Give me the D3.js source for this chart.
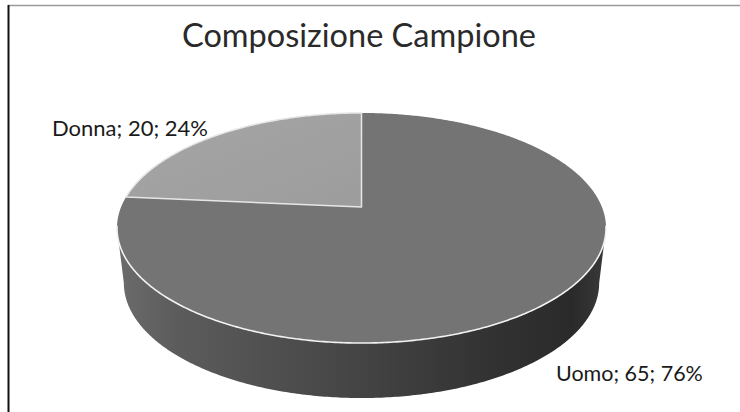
<!DOCTYPE html>
<html>
<head>
<meta charset="utf-8">
<script src="https://cdn.jsdelivr.net/npm/d3@7"></script>
<style>
  html, body { margin: 0; padding: 0; background: #fff; }
  svg { display: block; }
</style>
</head>
<body>
<svg id="chart" width="740" height="412"></svg>
<script>
// ---- data ----
const title = "Composizione Campione";
const categories = ["Uomo", "Donna"];
const values = [65, 20];
const sliceColors = ["#747474", "#a1a1a1"];

// ---- layout ----
const W = 740, H = 412;
const svg = d3.select("#chart");

const cx = 361.5, cy = 207;       // projected centre of the top face
const A = 240.4, B = 111.2, k = 0.1826; // perspective ellipse parameters
const depth = 55, bottomScale = 0.972;

function proj(a, bottom) {
  const X = Math.sin(a), Y = Math.cos(a);
  const s = bottom ? bottomScale : 1;
  return [cx + s * A * X / (1 + k * Y), cy + (bottom ? depth : 0) - B * Y / (1 + k * Y)];
}
function arcPts(a0, a1, bottom) {
  const n = Math.max(2, Math.ceil(Math.abs(a1 - a0) / 0.01));
  return d3.range(n + 1).map(i => proj(a0 + (a1 - a0) * i / n, bottom));
}
const line = d3.line();

const pie = d3.pie().sort(null).startAngle(0).endAngle(2 * Math.PI);
const arcs = pie(values);
const total = d3.sum(values);

// defs: gradients
const defs = svg.append("defs");
const sideGrad = defs.append("linearGradient").attr("id", "sideGrad")
  .attr("gradientUnits", "userSpaceOnUse")
  .attr("x1", cx - A * 1.02).attr("x2", cx + A * 1.02).attr("y1", 0).attr("y2", 0);
[[0, "#6c6c6c"], [0.12, "#5c5c5c"], [0.45, "#474747"], [0.75, "#333333"], [0.93, "#2a2a2a"], [1, "#3a3a3a"]]
  .forEach(([o, c]) => sideGrad.append("stop").attr("offset", o).attr("stop-color", c));

const donnaGrad = defs.append("linearGradient").attr("id", "donnaGrad")
  .attr("x1", 0).attr("x2", 1).attr("y1", 0).attr("y2", 1);
donnaGrad.append("stop").attr("offset", 0).attr("stop-color", "#a6a6a6");
donnaGrad.append("stop").attr("offset", 1).attr("stop-color", "#9c9c9c");

// border (only top and left visible in the reference)
svg.append("line").attr("x1", 8).attr("x2", W).attr("y1", 5.5).attr("y2", 5.5)
  .attr("stroke", "#9a9a9a").attr("stroke-width", 1.5);
svg.append("line").attr("x1", 8.5).attr("x2", 8.5).attr("y1", 5).attr("y2", H)
  .attr("stroke", "#111").attr("stroke-width", 2);

// side wall (front visible part)
const aR = Math.acos(-k), aL = 2 * Math.PI - Math.acos(-k);
const sidePts = arcPts(aR, aL, false).concat(arcPts(aL, aR, true));
svg.append("path").attr("d", line(sidePts) + "Z").attr("fill", "url(#sideGrad)");

// top faces
arcs.forEach((d, i) => {
  const p = [[cx, cy]].concat(arcPts(d.startAngle, d.endAngle, false));
  svg.append("path")
    .attr("d", line(p) + "Z")
    .attr("fill", i === 1 ? "url(#donnaGrad)" : sliceColors[i])
    .attr("stroke", i === 1 ? "#e6e6e6" : "none")
    .attr("stroke-width", 1.5)
    .attr("stroke-linejoin", "round");
});
// white rim along front edge
svg.append("path").attr("d", line(arcPts(aR - 0.02, aL + 0.02, false)))
  .attr("fill", "none").attr("stroke", "#f2f2f2").attr("stroke-width", 1.6);

// title
svg.append("text").attr("x", 359).attr("y", 47)
  .attr("text-anchor", "middle")
  .style("font-family", "Lato, 'Open Sans', sans-serif")
  .style("font-size", "32.5px").attr("fill", "#2a2a2a")
  .text(title);

// labels
const labelPos = [[556, 381], [52, 136]];
const labelSize = ["21.5px", "22px"];
arcs.forEach((d, i) => {
  const pct = Math.round(values[i] / total * 100);
  svg.append("text").attr("x", labelPos[i][0]).attr("y", labelPos[i][1])
    .style("font-family", "Lato, 'Open Sans', sans-serif")
    .style("font-size", labelSize[i]).attr("fill", "#1a1a1a")
    .text(`${categories[i]}; ${values[i]}; ${pct}%`);
});
</script>
</body>
</html>
